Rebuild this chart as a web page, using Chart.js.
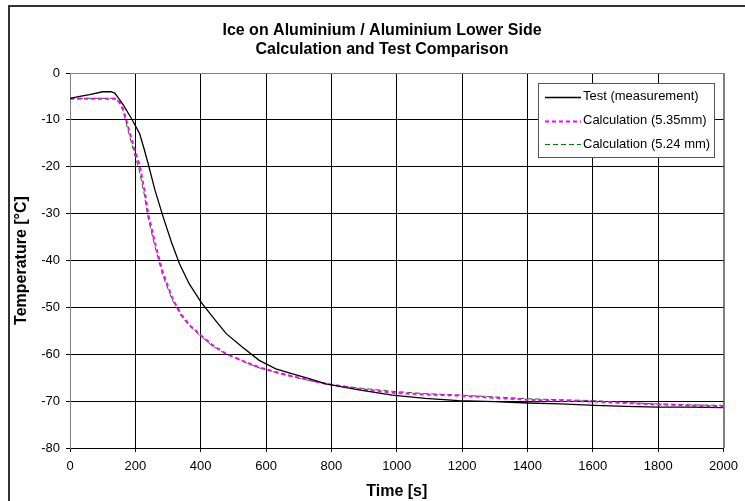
<!DOCTYPE html>
<html>
<head>
<meta charset="utf-8">
<script src="https://cdn.jsdelivr.net/npm/chart.js@4/dist/chart.umd.min.js"></script>
<style>
html,body{margin:0;padding:0;background:#fff;}
#wrap{width:745px;height:501px;position:relative;}
</style>
</head>
<body>
<div id="wrap"><canvas id="c" width="745" height="501"></canvas></div>
<script>
// ---- Data ----
const titleLines = ["Ice on Aluminium / Aluminium Lower Side", "Calculation and Test Comparison"];
const seriesNames = ["Test (measurement)", "Calculation (5.35mm)", "Calculation (5.24 mm)"];

const testTime = [0, 30, 60, 100, 125, 137, 150, 163, 188, 213, 226, 239, 260, 285, 310, 335, 365, 401, 437, 478, 528, 579, 630, 681, 732, 783, 884, 986, 1087, 1189, 1300, 1402, 1500, 1606, 1700, 1799, 1900, 2000];
const testTemp = [-5.4, -5.0, -4.6, -4.0, -4.0, -4.3, -5.5, -6.8, -9.7, -12.9, -16.0, -19.3, -25.0, -30.7, -36.0, -40.7, -45.0, -48.9, -52.1, -55.6, -58.5, -61.3, -63.1, -64.2, -65.2, -66.3, -67.6, -68.7, -69.4, -69.9, -70.1, -70.4, -70.6, -70.9, -71.1, -71.3, -71.3, -71.4];

const calc535Time = [0, 142, 152, 163, 178, 198, 213, 229, 239, 259, 285, 315, 340, 366, 401, 437, 478, 539, 579, 630, 681, 732, 783, 884, 986, 1087, 1189, 1300, 1402, 1500, 1606, 1700, 1799, 1900, 2000];
const calc535Temp = [-5.5, -5.5, -6.3, -7.8, -11.5, -16.5, -19.7, -25.4, -30.0, -36.0, -42.8, -48.3, -51.5, -53.8, -56.0, -58.1, -59.9, -61.7, -62.8, -63.8, -64.7, -65.5, -66.3, -67.4, -68.2, -68.6, -68.8, -69.3, -69.7, -69.9, -70.1, -70.4, -70.7, -70.9, -71.1];

const calc524Time = [0, 140, 150, 162, 176, 196, 211, 227, 237, 257, 283, 313, 340, 366, 401, 437, 478, 539, 579, 630, 681, 732, 783, 884, 986, 1087, 1189, 1300, 1402, 1500, 1606, 1700, 1799, 1900, 2000];
const calc524Temp = [-5.4, -5.4, -6.3, -8.0, -11.8, -17.0, -20.5, -25.8, -30.2, -36.2, -43.0, -48.4, -51.8, -54.0, -56.2, -58.3, -60.0, -61.8, -62.9, -63.9, -64.8, -65.6, -66.3, -67.2, -67.9, -68.4, -68.7, -69.1, -69.5, -69.7, -69.9, -70.3, -70.6, -70.8, -70.9];

const xMin = 0, xMax = 2000, xStep = 200;
const yMin = -80, yMax = 0, yStep = 10;
const xTitle = "Time [s]";
const yTitle = "Temperature [°C]";

function pts(xs, ys){ return xs.map((x,i)=>({x:x, y:ys[i]})); }

const FONT = "'Liberation Sans', Arial, Helvetica, sans-serif";

const framePlugin = {
  id: 'frame',
  beforeDraw(chart){
    const ctx = chart.ctx;
    ctx.save();
    ctx.fillStyle = '#fff';
    ctx.fillRect(0,0,chart.width,chart.height);
    // outer chart frame (left and top visible)
    ctx.strokeStyle = '#333';
    ctx.lineWidth = 2;
    ctx.beginPath();
    ctx.moveTo(9, chart.height + 5);
    ctx.lineTo(9, 6);
    ctx.lineTo(chart.width + 5, 6);
    ctx.stroke();
    // title
    ctx.fillStyle = '#000';
    ctx.font = "bold 16px " + FONT;
    ctx.textAlign = 'center';
    ctx.textBaseline = 'middle';
    ctx.fillText(titleLines[0], 382, 30.5);
    ctx.fillText(titleLines[1], 382, 50);
    ctx.restore();
  },
  afterDraw(chart){
    const ctx = chart.ctx;
    ctx.save();
    // legend box
    const bx = 538.5, by = 83.5, bw = 176, bh = 74;
    ctx.fillStyle = '#fff';
    ctx.fillRect(bx, by, bw, bh);
    ctx.strokeStyle = '#555';
    ctx.lineWidth = 1;
    ctx.strokeRect(bx, by, bw, bh);
    const rows = [96.7, 120.5, 144.3];
    ctx.font = "13px " + FONT;
    ctx.textAlign = 'left';
    ctx.textBaseline = 'middle';
    chart.data.datasets.forEach((ds, i) => {
      const y = Math.round(rows[i]) + 0.5;
      ctx.strokeStyle = ds.borderColor;
      ctx.lineWidth = ds.borderWidth;
      ctx.setLineDash(ds.borderDash || []);
      ctx.beginPath();
      ctx.moveTo(545, y);
      ctx.lineTo(581, y);
      ctx.stroke();
      ctx.setLineDash([]);
      ctx.fillStyle = '#000';
      ctx.fillText(ds.label, 583, rows[i]);
    });
    ctx.restore();
  }
};

new Chart(document.getElementById('c'), {
  type: 'line',
  data: {
    datasets: [
      { label: seriesNames[0], data: pts(testTime, testTemp), borderColor: '#000000', borderWidth: 1.3, pointRadius: 0, fill: false, tension: 0 },
      { label: seriesNames[1], data: pts(calc535Time, calc535Temp), borderColor: '#FF00FF', borderWidth: 2, borderDash: [4, 3], pointRadius: 0, fill: false, tension: 0 },
      { label: seriesNames[2], data: pts(calc524Time, calc524Temp), borderColor: '#008000', borderWidth: 1, borderDash: [5, 3], pointRadius: 0, fill: false, tension: 0 }
    ]
  },
  options: {
    responsive: false,
    animation: false,
    layout: { padding: { top: 73, right: 19, left: 0, bottom: 0 } },
    plugins: { legend: { display: false }, title: { display: false }, tooltip: { enabled: false } },
    scales: {
      x: {
        type: 'linear', min: xMin, max: xMax,
        ticks: { stepSize: xStep, color: '#000', font: { family: FONT, size: 13 }, padding: 7, maxRotation: 0, callback: (v) => String(v) },
        grid: { color: (c) => (c.tick && (c.tick.value === xMin || c.tick.value === xMax)) ? '#808080' : '#000', lineWidth: 1, tickLength: 4, tickColor: '#000' },
        border: { color: '#000', width: 1 },
        title: { display: true, text: xTitle, color: '#000', font: { family: FONT, size: 16, weight: 'bold' }, padding: { top: 0, bottom: 0 } },
        afterFit: (s) => { s.height = 53; }
      },
      y: {
        type: 'linear', min: yMin, max: yMax,
        ticks: { stepSize: yStep, color: '#000', font: { family: FONT, size: 13 }, padding: 6, callback: (v) => String(v) },
        grid: { color: (c) => (c.tick && c.tick.value === yMax) ? '#808080' : '#000', lineWidth: 1, tickLength: 4, tickColor: '#000' },
        border: { color: '#808080', width: 1 },
        title: { display: true, text: yTitle, color: '#000', font: { family: FONT, size: 16, weight: 'bold' }, padding: { top: 12, bottom: 0 } },
        afterFit: (s) => { s.width = 70; }
      }
    }
  },
  plugins: [framePlugin, {
    id: 'rightBorder',
    afterDatasetsDraw(chart){
      const a = chart.chartArea, ctx = chart.ctx;
      ctx.save();
      ctx.strokeStyle = '#808080';
      ctx.lineWidth = 1;
      ctx.beginPath();
      ctx.moveTo(Math.round(a.right) + 0.5, a.top);
      ctx.lineTo(Math.round(a.right) + 0.5, a.bottom);
      ctx.stroke();
      ctx.restore();
    }
  }]
});
</script>
</body>
</html>
